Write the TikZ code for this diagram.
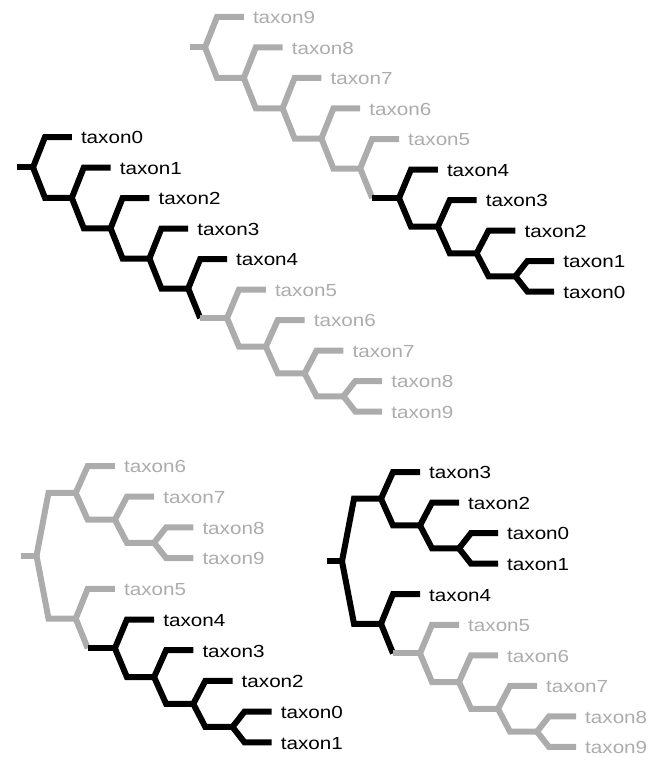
\documentclass[tikz,border=0pt]{standalone}
\usepackage{fontspec}
\setmainfont{Liberation Sans}[FakeStretch=1.18]
\usetikzlibrary{calc}
\definecolor{gry}{RGB}{172,172,172}
\tikzset{
  blk/.style={draw=black, line width=6pt, line join=miter, miter limit=4},
  gr/.style={draw=gry, line width=6pt, line join=miter, miter limit=4},
  labk/.style={anchor=base west, inner sep=0pt, text=black, font=\fontsize{17.5}{20}\selectfont},
  labg/.style={labk, text=gry},
}
\newcommand\dd{12}
\newcommand\br[3]{\draw[#3] (#1) -- ($(#1 |- #2)+(\dd,0)$) -- (#2);}
\newcommand\brs[4]{\draw[#3] (#1) -- ($(#1 |- #2)+(\dd,0)$) coordinate (#1c); \draw[#4] (#1c) -- (#2);}
\newcommand\lab[3]{\node[#3] (L#1) at ($(#1)+(9,6.8)$) {#2};}
\begin{document}
\begin{tikzpicture}[x=1pt,y=-1pt]
\useasboundingbox (0,0) rectangle (656,757);
% ---------- Tree A (top left)
\coordinate (Ar) at (17,167.4);
\coordinate (A0) at (33,167.4);
\coordinate (A1) at (71.8,197.9);
\coordinate (A2) at (110.6,228.3);
\coordinate (A3) at (149.4,258.5);
\coordinate (A4) at (188.2,288.5);
\coordinate (A5) at (227,318.1);
\coordinate (A6) at (265.8,346.7);
\coordinate (A7) at (304.6,373.4);
\coordinate (A8) at (343.4,396.25);
\coordinate (At0) at (71.8,137);
\coordinate (At1) at (110.6,167.5);
\coordinate (At2) at (149.4,198);
\coordinate (At3) at (188.2,228.5);
\coordinate (At4) at (227,259);
\coordinate (At5) at (265.8,289.5);
\coordinate (At6) at (304.6,320);
\coordinate (At7) at (343.4,350.5);
\coordinate (At8) at (382.2,381);
\coordinate (At9) at (382.2,411.5);
\br{A5}{At5}{gr} \br{A5}{A6}{gr}
\br{A6}{At6}{gr} \br{A6}{A7}{gr}
\br{A7}{At7}{gr} \br{A7}{A8}{gr}
\br{A8}{At8}{gr} \br{A8}{At9}{gr}
\draw[blk] (Ar) -- (A0);
\br{A0}{At0}{blk} \br{A0}{A1}{blk}
\br{A1}{At1}{blk} \br{A1}{A2}{blk}
\br{A2}{At2}{blk} \br{A2}{A3}{blk}
\br{A3}{At3}{blk} \br{A3}{A4}{blk}
\br{A4}{At4}{blk} \brs{A4}{A5}{blk}{gr}
\lab{At0}{taxon0}{labk} \lab{At1}{taxon1}{labk} \lab{At2}{taxon2}{labk}
\lab{At3}{taxon3}{labk} \lab{At4}{taxon4}{labk}
\lab{At5}{taxon5}{labg} \lab{At6}{taxon6}{labg} \lab{At7}{taxon7}{labg}
\lab{At8}{taxon8}{labg} \lab{At9}{taxon9}{labg}
% ---------- Tree B (top right)
\coordinate (Br) at (190,47.4);
\coordinate (B0) at (205,47.4);
\coordinate (B1) at (243.8,77.9);
\coordinate (B2) at (282.6,108.3);
\coordinate (B3) at (321.4,138.5);
\coordinate (B4) at (360.2,168.5);
\coordinate (B5) at (399,198.1);
\coordinate (B6) at (437.8,226.7);
\coordinate (B7) at (476.6,253.4);
\coordinate (B8) at (515.4,276.25);
\coordinate (Bt9) at (243.8,17);
\coordinate (Bt8) at (282.6,47.5);
\coordinate (Bt7) at (321.4,78);
\coordinate (Bt6) at (360.2,108.5);
\coordinate (Bt5) at (399,139);
\coordinate (Bt4) at (437.8,169.5);
\coordinate (Bt3) at (476.6,200);
\coordinate (Bt2) at (515.4,230.5);
\coordinate (Bt1) at (554.2,261);
\coordinate (Bt0) at (554.2,291.5);
\draw[gr] (Br) -- (B0);
\br{B0}{Bt9}{gr} \br{B0}{B1}{gr}
\br{B1}{Bt8}{gr} \br{B1}{B2}{gr}
\br{B2}{Bt7}{gr} \br{B2}{B3}{gr}
\br{B3}{Bt6}{gr} \br{B3}{B4}{gr}
\br{B4}{Bt5}{gr} \brs{B4}{B5}{gr}{blk}
\br{B5}{Bt4}{blk} \br{B5}{B6}{blk}
\br{B6}{Bt3}{blk} \br{B6}{B7}{blk}
\br{B7}{Bt2}{blk} \br{B7}{B8}{blk}
\br{B8}{Bt1}{blk} \br{B8}{Bt0}{blk}
\lab{Bt9}{taxon9}{labg} \lab{Bt8}{taxon8}{labg} \lab{Bt7}{taxon7}{labg}
\lab{Bt6}{taxon6}{labg} \lab{Bt5}{taxon5}{labg}
\lab{Bt4}{taxon4}{labk} \lab{Bt3}{taxon3}{labk} \lab{Bt2}{taxon2}{labk}
\lab{Bt1}{taxon1}{labk} \lab{Bt0}{taxon0}{labk}
% ---------- Tree C (bottom left)
\coordinate (Cr) at (21,555.7);
\coordinate (C0) at (36.5,555.7);
\coordinate (CX) at (75.7,492.9);
\coordinate (CX2) at (114.9,519.7);
\coordinate (CX3) at (154.1,542.75);
\coordinate (CY1) at (75.7,618.55);
\coordinate (CY2) at (114.9,648.3);
\coordinate (CY3) at (154.1,677.05);
\coordinate (CY4) at (193.3,703.9);
\coordinate (CY5) at (232.5,726.95);
\coordinate (Ct6) at (114.9,466);
\coordinate (Ct7) at (154.1,496.7);
\coordinate (Ct8) at (193.3,527.4);
\coordinate (Ct9) at (193.3,558.1);
\coordinate (Ct5) at (114.9,588.8);
\coordinate (Ct4) at (154.1,619.5);
\coordinate (Ct3) at (193.3,650.2);
\coordinate (Ct2) at (232.5,680.9);
\coordinate (Ct0) at (271.7,711.6);
\coordinate (Ct1) at (271.7,742.3);
\draw[gr] (Cr) -- (C0);
\br{C0}{CX}{gr} \br{C0}{CY1}{gr}
\br{CX}{Ct6}{gr} \br{CX}{CX2}{gr}
\br{CX2}{Ct7}{gr} \br{CX2}{CX3}{gr}
\br{CX3}{Ct8}{gr} \br{CX3}{Ct9}{gr}
\br{CY1}{Ct5}{gr} \brs{CY1}{CY2}{gr}{blk}
\br{CY2}{Ct4}{blk} \br{CY2}{CY3}{blk}
\br{CY3}{Ct3}{blk} \br{CY3}{CY4}{blk}
\br{CY4}{Ct2}{blk} \br{CY4}{CY5}{blk}
\br{CY5}{Ct0}{blk} \br{CY5}{Ct1}{blk}
\lab{Ct6}{taxon6}{labg} \lab{Ct7}{taxon7}{labg} \lab{Ct8}{taxon8}{labg}
\lab{Ct9}{taxon9}{labg} \lab{Ct5}{taxon5}{labg}
\lab{Ct4}{taxon4}{labk} \lab{Ct3}{taxon3}{labk} \lab{Ct2}{taxon2}{labk}
\lab{Ct0}{taxon0}{labk} \lab{Ct1}{taxon1}{labk}
% ---------- Tree D (bottom right)
\coordinate (Dr) at (327,561.26);
\coordinate (D0) at (342,561.26);
\coordinate (DP) at (381,498.73);
\coordinate (DP2) at (420,525.46);
\coordinate (DP3) at (459,548.375);
\coordinate (DQ) at (381,623.8);
\coordinate (DQ2) at (420,653.39);
\coordinate (DQ3) at (459,682.03);
\coordinate (DQ4) at (498,708.76);
\coordinate (DQ5) at (537,731.675);
\coordinate (Dt3) at (420,472);
\coordinate (Dt2) at (459,502.55);
\coordinate (Dt0) at (498,533.1);
\coordinate (Dt1) at (498,563.65);
\coordinate (Dt4) at (420,594.2);
\coordinate (Dt5) at (459,624.75);
\coordinate (Dt6) at (498,655.3);
\coordinate (Dt7) at (537,685.85);
\coordinate (Dt8) at (576,716.4);
\coordinate (Dt9) at (576,746.95);
\br{DQ2}{Dt5}{gr} \br{DQ2}{DQ3}{gr}
\br{DQ3}{Dt6}{gr} \br{DQ3}{DQ4}{gr}
\br{DQ4}{Dt7}{gr} \br{DQ4}{DQ5}{gr}
\br{DQ5}{Dt8}{gr} \br{DQ5}{Dt9}{gr}
\draw[blk] (Dr) -- (D0);
\br{D0}{DP}{blk} \br{D0}{DQ}{blk}
\br{DP}{Dt3}{blk} \br{DP}{DP2}{blk}
\br{DP2}{Dt2}{blk} \br{DP2}{DP3}{blk}
\br{DP3}{Dt0}{blk} \br{DP3}{Dt1}{blk}
\br{DQ}{Dt4}{blk} \brs{DQ}{DQ2}{blk}{gr}
\lab{Dt3}{taxon3}{labk} \lab{Dt2}{taxon2}{labk} \lab{Dt0}{taxon0}{labk}
\lab{Dt1}{taxon1}{labk} \lab{Dt4}{taxon4}{labk}
\lab{Dt5}{taxon5}{labg} \lab{Dt6}{taxon6}{labg} \lab{Dt7}{taxon7}{labg}
\lab{Dt8}{taxon8}{labg} \lab{Dt9}{taxon9}{labg}
\end{tikzpicture}
\end{document}
